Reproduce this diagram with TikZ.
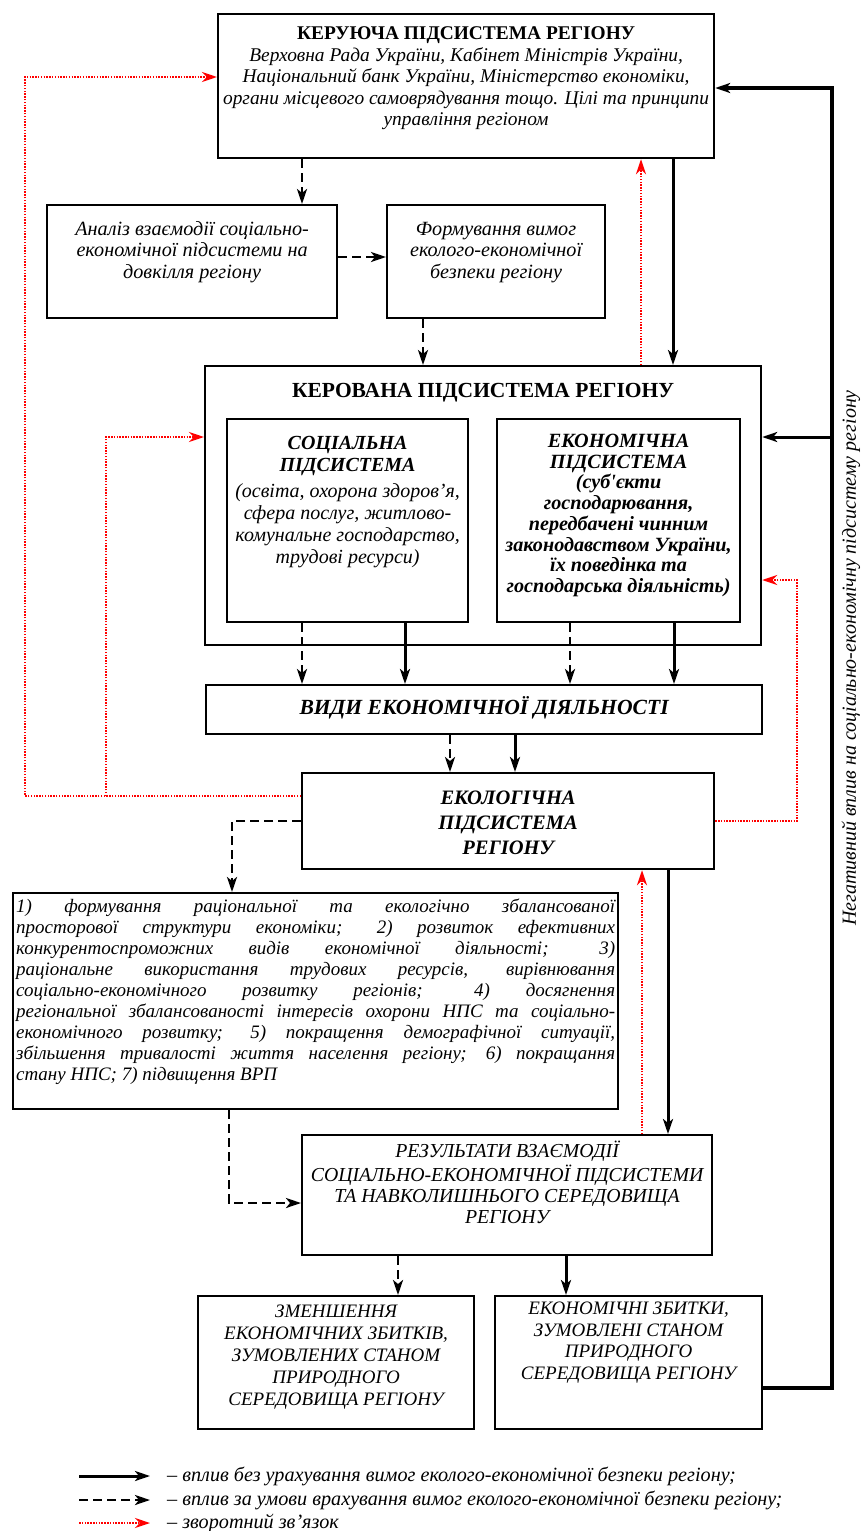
\documentclass[tikz,border=0pt]{standalone}
\usepackage{fontspec}
\setmainfont{Liberation Serif}
\usepackage{tikz}
\usetikzlibrary{positioning,arrows.meta,calc}
% box text: width, height, inner pos, top pad, font, text
\newcommand{\bxt}[6]{\parbox[c][#2pt][#3]{#1pt}{#5\centering\vspace*{#4pt}\strut#6}}
\newcommand{\jline}[1]{\makebox[599pt][s]{#1}\\}
\tikzset{
  blk/.style={draw,line width=2.2pt,inner sep=0pt,anchor=north west},
  solarr/.style={-{Stealth[length=15pt,width=10pt,inset=4pt]},line width=3pt},
  dsharr/.style={-{Stealth[length=15pt,width=10pt,inset=4pt]},line width=2.6pt,dash pattern=on 9pt off 5pt},
  fbarr/.style={-{Stealth[length=15pt,width=10pt]},red,line width=2.4pt,dash pattern=on 1.5pt off 1.3pt},
  lgnd/.style={anchor=west,inner sep=0pt,font=\fontsize{20.2}{22}\selectfont\itshape},
}

\begin{document}
\begin{tikzpicture}[x=1pt,y=-1pt]
  \useasboundingbox (0,0) rectangle (861,1531);
  % managing subsystem and analysis blocks
  \node[blk] (upr) at (217,13) {\bxt{496}{144}{t}{10.5}{\fontsize{19.4}{21.5}\selectfont}{%
    {\bfseries КЕРУЮЧА ПІДСИСТЕМА РЕГІОНУ}\\ \itshape Верховна Рада України, Кабінет Міністрів України,\\
    Національний банк України, Міністерство економіки,\\ органи місцевого самоврядування тощо. Цілі та принципи\\
    управління регіоном}};
  \node[blk] (analiz) at (46,204) {\bxt{290}{113}{t}{15}{\fontsize{20.2}{21.5}\selectfont\itshape}{%
    Аналіз взаємодії соціально-\\ економічної підсистеми на\\ довкілля регіону}};
  \node[blk] (formuv) at (386,204) {\bxt{218}{113}{t}{15}{\fontsize{20.2}{21.5}\selectfont\itshape}{%
    Формування вимог\\ еколого-економічної\\ безпеки регіону}};
  % managed subsystem
  \node[blk] (kerov) at (204,365) {\bxt{556}{279}{t}{14.5}{\fontsize{21.5}{24}\selectfont\bfseries}{%
    КЕРОВАНА ПІДСИСТЕМА РЕГІОНУ}};
  \node[blk] (social) at (226,418) {\bxt{241}{203}{t}{15}{\fontsize{20}{22}\selectfont\itshape}{%
    {\bfseries СОЦІАЛЬНА\\ ПІДСИСТЕМА}\\[4pt] (освіта, охорона здоров’я,\\ сфера послуг, житлово-\\
    комунальне господарство,\\ трудові ресурси)}};
  \node[blk] (econ) at (496,418) {\bxt{243}{203}{t}{14}{\fontsize{20.2}{20.7}\selectfont\bfseries\itshape}{%
    ЕКОНОМІЧНА\\ ПІДСИСТЕМА\\ (суб\textquotesingle єкти\\ господарювання,\\ передбачені чинним\\ законодавством України,\\
    їх поведінка та\\ господарська діяльність)}};
  \node[blk] (vydy) at (205,684) {\bxt{556}{49}{c}{0}{\fontsize{21.6}{24}\selectfont\bfseries\itshape}{%
    ВИДИ ЕКОНОМІЧНОЇ ДІЯЛЬНОСТІ}};
  \node[blk] (eco) at (301,772) {\bxt{412}{96}{c}{0}{\fontsize{20.5}{25}\selectfont\bfseries\itshape}{%
    ЕКОЛОГІЧНА\\ ПІДСИСТЕМА\\ РЕГІОНУ}};
  % directions list
  \node[blk,inner xsep=3pt] (list) at (12,892) {\parbox[c][216pt][t]{599pt}{%
    \fontsize{19}{21}\selectfont\itshape\vspace*{4.5pt}\strut
    \jline{1) формування раціональної та екологічно збалансованої}
    \jline{просторової структури економіки; 2) розвиток ефективних}
    \jline{конкурентоспроможних видів економічної діяльності; 3)}
    \jline{раціональне використання трудових ресурсів, вирівнювання}
    \jline{соціально-економічного розвитку регіонів; 4) досягнення}
    \jline{регіональної збалансованості інтересів охорони НПС та соціально-}
    \jline{економічного розвитку; 5) покращення демографічної ситуації,}
    \jline{збільшення тривалості життя населення регіону; 6) покращання}
    стану НПС; 7) підвищення ВРП}};
  % results
  \node[blk] (result) at (301,1134) {\bxt{410}{120}{t}{6}{\fontsize{19.8}{21}\selectfont\itshape}{%
    РЕЗУЛЬТАТИ ВЗАЄМОДІЇ\\ СОЦІАЛЬНО-ЕКОНОМІЧНОЇ ПІДСИСТЕМИ\\ ТА НАВКОЛИШНЬОГО СЕРЕДОВИЩА\\ РЕГІОНУ}};
  \node[blk] (zmensh) at (197,1295) {\bxt{276}{133}{t}{6}{\fontsize{19}{22}\selectfont\itshape}{%
    ЗМЕНШЕННЯ\\ ЕКОНОМІЧНИХ ЗБИТКІВ,\\ ЗУМОВЛЕНИХ СТАНОМ\\ ПРИРОДНОГО\\ СЕРЕДОВИЩА РЕГІОНУ}};
  \node[blk] (zbytky) at (494,1295) {\bxt{267}{133}{t}{3.5}{\fontsize{19}{21.5}\selectfont\itshape}{%
    ЕКОНОМІЧНІ ЗБИТКИ,\\ ЗУМОВЛЕНІ СТАНОМ\\ ПРИРОДНОГО\\ СЕРЕДОВИЩА РЕГІОНУ}};
  \node[rotate=90,font=\fontsize{20}{22}\selectfont\itshape] (neg) at (851,658)
    {Негативний вплив на соціально-економічну підсистему регіону};

  % connectors
  \coordinate (fbL) at (106,796);
  \coordinate (negR) at (832,437);
  \draw[dsharr] (upr.south -| 302,0) -- (analiz.north -| 302,0);
  \draw[dsharr] (analiz.east |- 0,257) -- (formuv.west |- 0,257);
  \draw[dsharr] (formuv.south -| 423,0) -- (kerov.north -| 423,0);
  \draw[fbarr] (kerov.north -| 641,0) -- (upr.south -| 641,0);
  \draw[solarr] (upr.south -| 673,0) -- (kerov.north -| 673,0);
  \draw[fbarr] (eco.west |- 0,796) -| (25,77) -- (upr.west |- 0,77);
  \draw[fbarr] (fbL) |- (kerov.west |- 0,437);
  \draw[solarr,line width=3.4pt] (zbytky.east |- 0,1388) -| (832,88) -- (upr.east |- 0,88);
  \draw[solarr] (negR) -- (kerov.east |- 0,437);
  \draw[fbarr] (eco.east) -| (797,580) -- (kerov.east |- 0,580);
  \draw[dsharr] (social.south -| 302,0) -- (vydy.north -| 302,0);
  \draw[solarr] (social.south -| 405,0) -- (vydy.north -| 405,0);
  \draw[dsharr] (econ.south -| 570,0) -- (vydy.north -| 570,0);
  \draw[solarr] (econ.south -| 674,0) -- (vydy.north -| 674,0);
  \draw[dsharr] (vydy.south -| 450,0) -- (eco.north -| 450,0);
  \draw[solarr] (vydy.south -| 515,0) -- (eco.north -| 515,0);
  \draw[dsharr] (eco.west) -| (list.north -| 232,0);
  \draw[fbarr] (result.north -| 642,0) -- (eco.south -| 642,0);
  \draw[solarr] (eco.south -| 668,0) -- (result.north -| 668,0);
  \draw[dsharr] (list.south -| 229,0) |- (result.west |- 0,1203);
  \draw[dsharr] (result.south -| 398,0) -- (zmensh.north -| 398,0);
  \draw[solarr] (result.south -| 566,0) -- (zbytky.north -| 566,0);

  % legend
  \node[lgnd] (lg1) at (167,1476) {– вплив без урахування вимог еколого-економічної безпеки регіону;};
  \node[lgnd] (lg2) at (167,1500) {– вплив за умови врахування вимог еколого-економічної безпеки регіону;};
  \node[lgnd] (lg3) at (167,1523) {– зворотний зв’язок};
  \draw[solarr] ([xshift=-88pt]lg1.west) -- ([xshift=-17pt]lg1.west);
  \draw[dsharr] ([xshift=-88pt]lg2.west) -- ([xshift=-17pt]lg2.west);
  \draw[fbarr] ([xshift=-88pt]lg3.west) -- ([xshift=-17pt]lg3.west);
\end{tikzpicture}
\end{document}
